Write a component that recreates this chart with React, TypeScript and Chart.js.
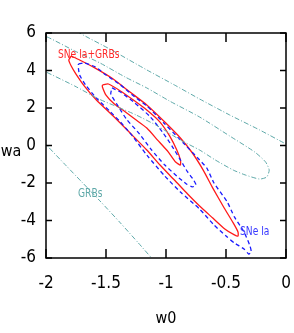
import React, { useEffect, useRef } from "react";
import { Chart, registerables } from "chart.js";
Chart.register(...registerables);

// axis ticks
const xTickValues = [-2, -1.5, -1, -0.5, 0];
const yTickValues = [-6, -4, -2, 0, 2, 4, 6];

// SNe Ia + GRBs (red, solid) — outer and inner contours, [w0, wa]
const snGrbOuter: [number, number][] = [
  [-1.79, 4.77], [-1.72, 4.56], [-1.59, 4.13], [-1.44, 3.55], [-1.3, 2.85], [-1.16, 2.16],
  [-1.01, 1.25], [-0.88, 0.4], [-0.78, -0.4], [-0.69, -1.31], [-0.61, -2.27], [-0.52, -3.28],
  [-0.44, -4.13], [-0.4, -4.61], [-0.4, -4.83], [-0.43, -4.77], [-0.51, -4.45], [-0.61, -3.87],
  [-0.72, -3.23], [-0.82, -2.59], [-0.93, -1.84], [-1.05, -1.04], [-1.16, -0.24], [-1.3, 0.67],
  [-1.44, 1.57], [-1.58, 2.43], [-1.68, 3.17], [-1.75, 3.81], [-1.79, 4.24], [-1.81, 4.56],
];
const snGrbInner: [number, number][] = [
  [-1.53, 3.23], [-1.48, 3.28], [-1.38, 2.91], [-1.26, 2.37], [-1.16, 1.89], [-1.05, 1.25],
  [-0.97, 0.51], [-0.91, -0.24], [-0.88, -0.77], [-0.88, -1.04], [-0.92, -0.88], [-0.98, -0.35],
  [-1.07, 0.29], [-1.16, 0.93], [-1.26, 1.41], [-1.36, 1.89], [-1.43, 2.21], [-1.5, 2.69], [-1.53, 3.12],
];

// SNe Ia (blue, dashed)
const snOuter: [number, number][] = [
  [-1.73, 4.35], [-1.68, 4.4], [-1.59, 4.19], [-1.5, 3.76], [-1.38, 3.23], [-1.26, 2.59],
  [-1.16, 2.11], [-1.01, 1.15], [-0.84, 0.03], [-0.72, -0.77], [-0.66, -1.2], [-0.6, -2.0],
  [-0.49, -3.01], [-0.43, -3.81], [-0.35, -4.61], [-0.3, -5.36], [-0.29, -5.68], [-0.31, -5.79],
  [-0.35, -5.52], [-0.43, -5.2], [-0.49, -4.88], [-0.6, -4.24], [-0.72, -3.39], [-0.88, -2.48],
  [-1.01, -1.63], [-1.16, -0.51], [-1.28, 0.51], [-1.38, 1.25], [-1.47, 1.84], [-1.58, 2.53],
  [-1.67, 3.23], [-1.72, 3.76], [-1.73, 4.13],
];
const snInner: [number, number][] = [
  [-1.45, 3.07], [-1.38, 2.85], [-1.26, 2.27], [-1.13, 1.52], [-1.03, 0.72], [-0.95, -0.03],
  [-0.88, -0.77], [-0.82, -1.41], [-0.77, -1.84], [-0.75, -2.11], [-0.78, -2.21], [-0.83, -2.05],
  [-0.91, -1.63], [-1.01, -1.04], [-1.12, -0.24], [-1.22, 0.61], [-1.33, 1.41], [-1.41, 2.21], [-1.46, 2.75],
];

// GRBs (teal, dash-dot)
const grbOuterUpper: [number, number][] = [
  [-1.88, 6.69], [-1.72, 6.0], [-1.47, 5.15], [-1.16, 4.03], [-0.93, 3.23], [-0.72, 2.48],
  [-0.47, 1.63], [-0.22, 0.83], [0, 0.08], [0.12, -0.29],
];
const grbOuterLower: [number, number][] = [
  [-2.08, 0.67], [-1.98, -0.08], [-1.83, -1.09], [-1.71, -1.89], [-1.55, -2.96], [-1.38, -4.13],
  [-1.23, -5.2], [-1.12, -6.0], [-1.05, -6.48],
];
const grbInner: [number, number][] = [
  [-2.07, 6.0], [-1.97, 5.73], [-1.76, 5.04], [-1.55, 4.4], [-1.34, 3.65], [-1.16, 3.07],
  [-0.97, 2.37], [-0.72, 1.52], [-0.47, 0.51], [-0.26, -0.35], [-0.17, -0.88], [-0.14, -1.31],
  [-0.16, -1.68], [-0.22, -1.79], [-0.34, -1.57], [-0.44, -1.31], [-0.59, -0.77], [-0.72, -0.24],
  [-0.88, 0.29], [-1.07, 1.04], [-1.25, 1.63], [-1.4, 2.05], [-1.56, 2.48], [-1.76, 3.17],
  [-2.0, 3.92], [-2.13, 4.29],
];

const labelNames = ["SNe Ia+GRBs", "GRBs", "SNe Ia"];
const labelW0 = [-1.9, -1.733, -0.383];
const labelWa = [4.67, -2.75, -4.77];
const labelColors = ["#ff2a2a", "#5fa9a9", "#3a3aff"];

const RED = "#ff1a1a";
const BLUE = "#1a1aff";
const TEAL = "#5fa9a9";
const FONT = "'Liberation Sans Narrow', 'DejaVu Sans Condensed', 'Liberation Sans', sans-serif";

const pts = (arr: [number, number][], close: boolean) => {
  const p = arr.map(([x, y]) => ({ x, y }));
  if (close) p.push({ x: arr[0][0], y: arr[0][1] });
  return p;
};

const mk = (arr: [number, number][], close: boolean, color: string, dash: number[], width: number) => ({
  data: pts(arr, close),
  showLine: true,
  borderColor: color,
  backgroundColor: color,
  borderWidth: width,
  borderDash: dash,
  pointRadius: 0,
  tension: 0.2,
  fill: false,
});

const framePlugin = {
  id: "frame",
  afterDatasetsDraw(chart: any) {
    const { ctx, chartArea: a, scales } = chart;
    const xs = scales.x;
    const ys = scales.y;
    ctx.save();
    ctx.strokeStyle = "#000";
    ctx.lineWidth = 1.5;
    ctx.strokeRect(a.left, a.top, a.right - a.left, a.bottom - a.top);
    const seg = (x1: number, y1: number, x2: number, y2: number) => {
      ctx.beginPath();
      ctx.moveTo(x1, y1);
      ctx.lineTo(x2, y2);
      ctx.stroke();
    };
    xs.ticks.forEach((t: any) => {
      const px = xs.getPixelForValue(t.value);
      seg(px, a.bottom, px, a.bottom - 9);
      seg(px, a.top, px, a.top + 9);
    });
    ys.ticks.forEach((t: any) => {
      const py = ys.getPixelForValue(t.value);
      seg(a.left, py, a.left + 6, py);
      seg(a.right, py, a.right - 6, py);
    });
    // annotations (slightly condensed like the original)
    labelNames.forEach((n, i) => {
      ctx.save();
      ctx.font = `13px ${FONT}`;
      ctx.textAlign = "left";
      ctx.textBaseline = "alphabetic";
      ctx.fillStyle = labelColors[i];
      const px = xs.getPixelForValue(labelW0[i]);
      const py = ys.getPixelForValue(labelWa[i]);
      ctx.translate(px, py);
      ctx.scale(0.78, 1);
      ctx.fillText(n, 0, 0);
      ctx.restore();
    });
    // axis titles
    ctx.fillStyle = "#000";
    ctx.font = `16px ${FONT}`;
    ctx.textAlign = "center";
    ctx.textBaseline = "middle";
    ctx.fillText("w0", (a.left + a.right) / 2, a.bottom + 61);
    ctx.fillText("wa", 11, a.top + 119);
    ctx.restore();
  },
};

export default function App() {
  const ref = useRef<HTMLCanvasElement>(null);
  useEffect(() => {
    const chart = new Chart(ref.current!, {
      type: "scatter",
      data: {
        datasets: [
          mk(grbOuterUpper, false, TEAL, [5, 2, 1, 2], 1),
          mk(grbOuterLower, false, TEAL, [5, 2, 1, 2], 1),
          mk(grbInner, false, TEAL, [5, 2, 1, 2], 1),
          mk(snOuter, true, BLUE, [4, 3], 1.3),
          mk(snInner, true, BLUE, [4, 3], 1.3),
          mk(snGrbOuter, true, RED, [], 1.3),
          mk(snGrbInner, true, RED, [], 1.3),
        ] as any,
      },
      options: {
        animation: false,
        responsive: false,
        layout: { padding: { top: 33, right: 8, left: 0, bottom: 0 } },
        plugins: { legend: { display: false }, tooltip: { enabled: false } },
        scales: {
          x: {
            type: "linear",
            min: -2,
            max: 0,
            afterBuildTicks: (s: any) => {
              s.ticks = xTickValues.map((v) => ({ value: v }));
            },
            afterFit: (s: any) => {
              s.height = 75;
              s.paddingLeft = 0;
              s.paddingRight = 0;
            },
            grid: { display: false, drawTicks: false },
            border: { display: false },
            ticks: {
              color: "#000",
              padding: 15,
              maxRotation: 0,
              autoSkip: false,
              font: { family: FONT, size: 17 },
              callback: (v: any) => String(v),
            },
          },
          y: {
            type: "linear",
            min: -6,
            max: 6,
            afterBuildTicks: (s: any) => {
              s.ticks = yTickValues.map((v) => ({ value: v }));
            },
            afterFit: (s: any) => {
              s.width = 46;
              s.paddingTop = 0;
              s.paddingBottom = 0;
            },
            grid: { display: false, drawTicks: false },
            border: { display: false },
            ticks: {
              color: "#000",
              padding: 10,
              autoSkip: false,
              font: { family: FONT, size: 17 },
              callback: (v: any) => String(v),
            },
          },
        },
      } as any,
      plugins: [framePlugin],
    });
    return () => chart.destroy();
  }, []);
  return (
    <div style={{ position: "fixed", left: 0, top: 0, width: 294, height: 333, background: "#fff" }}>
      <canvas ref={ref} width={294} height={333} style={{ display: "block" }} />
    </div>
  );
}
